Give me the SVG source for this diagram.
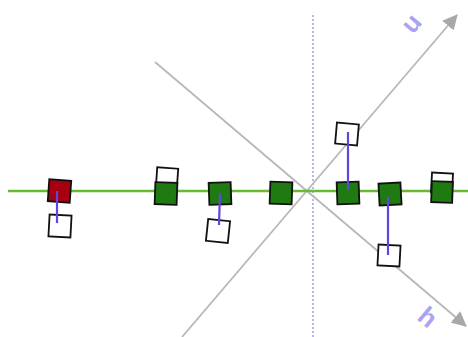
<svg xmlns="http://www.w3.org/2000/svg" width="468" height="337" viewBox="0 0 468 337">
  <style>
    .axis { stroke: #b8b8b8; stroke-width: 1.8; fill: none; }
    .base { stroke: #66bb33; stroke-width: 2.4; fill: none; }
    .guide { stroke: #9a96ee; stroke-width: 1.4; stroke-dasharray: 2 2; fill: none; }
    .link { stroke: #5a48e0; stroke-width: 2.2; fill: none; }
    .pt { fill: #1f7a12; stroke: #111; stroke-width: 1.8; }
    .pt-sel { fill: #a80010; stroke: #111; stroke-width: 1.8; }
    .ghost { fill: #ffffff; stroke: #111; stroke-width: 1.8; }
    .lbl { font-family: "Liberation Sans", Arial, sans-serif; font-size: 26px; font-weight: bold; fill: #aaa2f4; }
  </style>
  <defs>
    <marker id="head" viewBox="0 0 14 14" refX="13" refY="7" markerWidth="15" markerHeight="15" markerUnits="userSpaceOnUse" orient="auto">
      <path d="M0,0 L14,7 L0,14 z" fill="#a8a8a8"/>
    </marker>
  </defs>

  <rect width="468" height="337" fill="#ffffff"/>

  <!-- axes and guides -->
  <g id="axes">
    <line class="guide" x1="313" y1="15" x2="313" y2="337"/>
    <line class="axis" x1="155" y1="62" x2="466" y2="326" marker-end="url(#head)"/>
    <line class="axis" x1="182" y1="337" x2="457" y2="15" marker-end="url(#head)"/>
    <line class="base" x1="8" y1="191" x2="468" y2="191"/>
    <text class="lbl" x="411" y="23" text-anchor="middle" dominant-baseline="central" transform="rotate(-49.5 411 23)">u</text>
    <text class="lbl" x="428" y="317" text-anchor="middle" dominant-baseline="central" transform="rotate(40.3 428 317)">h</text>
  </g>

  <g id="n1">
    <rect class="ghost" x="49" y="215" width="22" height="22" transform="rotate(3 60 226)"/>
    <rect class="pt-sel" x="48.5" y="180" width="22" height="22" transform="rotate(4 59.5 191)"/>
  </g>
  <g id="n2">
    <rect class="ghost" x="156.5" y="168" width="21" height="21" transform="rotate(4 167 178.5)"/>
    <rect class="pt" x="155" y="182.5" width="22" height="22" transform="rotate(2 166 193.5)"/>
  </g>
  <g id="n3">
    <rect class="ghost" x="207" y="220" width="22" height="22" transform="rotate(6 218 231)"/>
    <rect class="pt" x="209" y="182.5" width="22" height="22" transform="rotate(-2 220 193.5)"/>
  </g>
  <g id="n4">
    <rect class="pt" x="270" y="182" width="22" height="22" transform="rotate(2 281 193)"/>
  </g>
  <g id="n5">
    <rect class="ghost" x="336" y="123.5" width="22" height="21" transform="rotate(5 347 134)"/>
    <rect class="pt" x="337" y="182" width="22" height="22" transform="rotate(-2 348 193)"/>
  </g>
  <g id="n6">
    <rect class="ghost" x="378" y="245" width="22" height="21" transform="rotate(3 389 255.5)"/>
    <rect class="pt" x="379" y="183" width="22" height="22" transform="rotate(-3 390 194)"/>
  </g>
  <g id="n7">
    <rect class="ghost" x="431.5" y="173" width="21" height="20" transform="rotate(3 442 183)"/>
    <rect class="pt" x="431.5" y="181.5" width="21" height="21" transform="rotate(2 442 192)"/>
  </g>

  <!-- projection connectors, drawn over the points -->
  <g id="connectors">
    <line class="link" x1="57" y1="191" x2="57" y2="223"/>
    <line class="link" x1="220" y1="193" x2="219" y2="225"/>
    <line class="link" x1="348" y1="132" x2="348" y2="190"/>
    <line class="link" x1="388" y1="197" x2="388" y2="255"/>
  </g>
</svg>
